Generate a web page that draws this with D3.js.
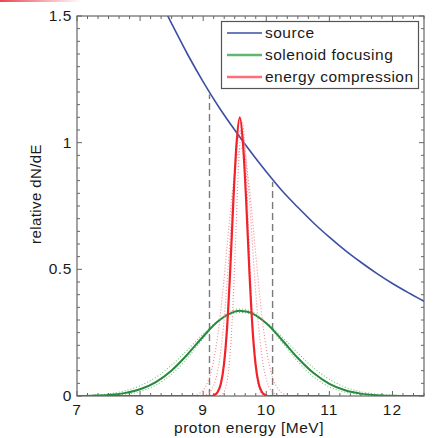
<!DOCTYPE html>
<html>
<head>
<meta charset="utf-8">
<script src="https://cdn.jsdelivr.net/npm/d3@7"></script>
<style>
  body { margin: 0; background: #fff; }
  svg { display: block; font-family: "Liberation Sans", Arial, sans-serif; }
</style>
</head>
<body>
<div id="chart"></div>
<script>
// values
const sourceE = [8.4, 8.5, 8.75, 9.0, 9.25, 9.5, 9.75, 10.0, 10.25, 10.5, 10.75, 11.0, 11.25, 11.5, 11.75, 12.0, 12.25, 12.5];
const sourceV = [1.52, 1.47, 1.35, 1.24, 1.14, 1.05, 0.965, 0.885, 0.81, 0.745, 0.683, 0.627, 0.575, 0.528, 0.484, 0.444, 0.408, 0.374];

const greenE = [7.0, 7.25, 7.5, 7.75, 8.0, 8.25, 8.5, 8.75, 9.0, 9.25, 9.5, 9.6, 9.75, 10.0, 10.25, 10.5, 10.75, 11.0, 11.25, 11.5, 11.75, 12.0, 12.25, 12.5];
const greenV = [0.0004, 0.0014, 0.0042, 0.0113, 0.0265, 0.0551, 0.101, 0.164, 0.235, 0.298, 0.333, 0.336, 0.329, 0.287, 0.221, 0.150, 0.0905, 0.0481, 0.0226, 0.0094, 0.0034, 0.0011, 0.0003, 0.0001];

const greenDotE = [7.0, 7.25, 7.5, 7.75, 8.0, 8.25, 8.5, 8.75, 9.0, 9.25, 9.5, 9.75, 10.0, 10.25, 10.5, 10.75, 11.0, 11.25, 11.5, 11.75, 12.0, 12.25, 12.5];
const greenDotWide = [0.0013, 0.0035, 0.0088, 0.0198, 0.0403, 0.0739, 0.122, 0.182, 0.245, 0.298, 0.327, 0.324, 0.289, 0.233, 0.170, 0.111, 0.066, 0.035, 0.017, 0.0074, 0.0029, 0.001, 0.0003];
const greenDotNarrow = [0.0002, 0.0007, 0.0022, 0.0068, 0.018, 0.043, 0.086, 0.150, 0.228, 0.300, 0.341, 0.336, 0.287, 0.212, 0.136, 0.076, 0.036, 0.015, 0.0055, 0.002, 0.0006, 0.0002, 0.0001];

const redE = [7.0, 8.6, 9.13, 9.18, 9.23, 9.28, 9.33, 9.38, 9.43, 9.48, 9.53, 9.58, 9.63, 9.68, 9.73, 9.78, 9.83, 9.88, 9.93, 9.98, 10.03, 11.0];
const redV = [0, 0, 0, 0.004, 0.016, 0.048, 0.126, 0.274, 0.504, 0.778, 1.0, 1.10, 1.0, 0.778, 0.504, 0.274, 0.126, 0.048, 0.016, 0.004, 0, 0];

const redDotAE = [9.05, 9.1, 9.15, 9.2, 9.25, 9.3, 9.35, 9.4, 9.45, 9.5, 9.55, 9.6, 9.65, 9.7, 9.75, 9.8, 9.85, 9.9, 9.95, 10.0, 10.05, 10.1, 10.15];
const redDotAV = [0.005, 0.014, 0.032, 0.066, 0.126, 0.221, 0.356, 0.525, 0.712, 0.883, 1.006, 1.05, 1.006, 0.883, 0.712, 0.525, 0.356, 0.221, 0.126, 0.066, 0.032, 0.014, 0.005];

const redDotBE = [8.9, 8.95, 9.0, 9.05, 9.1, 9.15, 9.2, 9.25, 9.3, 9.35, 9.4, 9.45, 9.5, 9.55, 9.6, 9.65, 9.7, 9.75, 9.8, 9.85, 9.9, 9.95, 10.0, 10.05, 10.1, 10.15, 10.2, 10.25, 10.3];
const redDotBV = [0.006, 0.012, 0.024, 0.043, 0.074, 0.121, 0.188, 0.276, 0.387, 0.514, 0.648, 0.777, 0.884, 0.955, 0.98, 0.955, 0.884, 0.777, 0.648, 0.514, 0.387, 0.276, 0.188, 0.121, 0.074, 0.043, 0.024, 0.012, 0.006];

const redDotCE = [9.27, 9.32, 9.37, 9.42, 9.47, 9.52, 9.57, 9.62, 9.67, 9.72, 9.77, 9.82, 9.87, 9.92, 9.97];
const redDotCV = [0.002, 0.012, 0.047, 0.146, 0.351, 0.655, 0.953, 1.08, 0.953, 0.655, 0.351, 0.146, 0.047, 0.012, 0.002];

const dashE = [9.1, 10.1];
const dashTop = [1.19, 0.845];

const xTicks = [7, 8, 9, 10, 11, 12];
const yTicks = [0, 0.5, 1, 1.5];
const yTickLabels = ["0", "0.5", "1", "1.5"];

const legendNames = ["source", "solenoid focusing", "energy compression"];
const lineColors = ["#3c4fa3", "#27893a", "#f2222c"];
const legendColors = ["#3c4fa3", "#62b672", "#ff6e76"];

const width = 434;
const height = 438;
const plot = { left: 77, right: 424, top: 16, bottom: 396 };
const textColor = "#1a1a1a";

const svg = d3
  .select("#chart")
  .append("svg")
  .attr("width", width)
  .attr("height", height);

// faint red stripe in the top-left corner
const grad = svg.append("defs").append("linearGradient").attr("id", "topfade");
grad.append("stop").attr("offset", "0%").attr("stop-color", "#e8474f");
grad.append("stop").attr("offset", "100%").attr("stop-color", "#e8474f").attr("stop-opacity", 0);
svg.append("rect").attr("x", 0).attr("y", 0).attr("width", 82).attr("height", 2).attr("fill", "url(#topfade)");

svg
  .select("defs")
  .append("clipPath")
  .attr("id", "plotclip")
  .append("rect")
  .attr("x", plot.left)
  .attr("y", plot.top)
  .attr("width", plot.right - plot.left)
  .attr("height", plot.bottom - plot.top);

const x = d3.scaleLinear().domain([7, 12.5]).range([plot.left, plot.right]);
const y = d3.scaleLinear().domain([0, 1.5]).range([plot.bottom, plot.top]);

const frame = svg.append("g").attr("stroke", "#666").attr("stroke-width", 1);

// minor + major ticks on all four sides (pointing inward)
const xMinor = d3.range(0, 34).map((i) => 7 + i / 6).filter((v) => v <= 12.5);
const yMinor = d3.range(0, 31).map((i) => i * 0.05);
xMinor.forEach((v) => {
  const len = Math.abs(v - Math.round(v)) < 1e-6 ? 5 : 3;
  frame.append("line").attr("x1", x(v)).attr("x2", x(v)).attr("y1", plot.bottom).attr("y2", plot.bottom - len);
  frame.append("line").attr("x1", x(v)).attr("x2", x(v)).attr("y1", plot.top).attr("y2", plot.top + len);
});
yMinor.forEach((v) => {
  const len = Math.abs(v * 2 - Math.round(v * 2)) < 1e-6 ? 5 : 3;
  frame.append("line").attr("x1", plot.left).attr("x2", plot.left + len).attr("y1", y(v)).attr("y2", y(v));
  frame.append("line").attr("x1", plot.right).attr("x2", plot.right - len).attr("y1", y(v)).attr("y2", y(v));
});

const plotArea = svg.append("g").attr("clip-path", "url(#plotclip)");

const line = d3
  .line()
  .x((d) => x(d[0]))
  .y((d) => y(d[1]))
  .curve(d3.curveCatmullRom);

const pairs = (es, vs) => es.map((e, i) => [e, vs[i]]);

// dashed window markers
dashE.forEach((e, i) => {
  plotArea
    .append("line")
    .attr("x1", x(e))
    .attr("x2", x(e))
    .attr("y1", y(0))
    .attr("y2", y(dashTop[i]))
    .attr("stroke", "#7a7a7a")
    .attr("stroke-width", 1.4)
    .attr("stroke-dasharray", "7,4");
});

plotArea
  .append("path")
  .datum(pairs(sourceE, sourceV))
  .attr("d", line)
  .attr("fill", "none")
  .attr("stroke", lineColors[0])
  .attr("stroke-width", 1.6);

[greenDotWide, greenDotNarrow].forEach((vals) => {
  plotArea
    .append("path")
    .datum(pairs(greenDotE, vals))
    .attr("d", line)
    .attr("fill", "none")
    .attr("stroke", "#74c082")
    .attr("stroke-width", 1.1)
    .attr("stroke-dasharray", "1,2");
});

plotArea
  .append("path")
  .datum(pairs(greenE, greenV))
  .attr("d", line)
  .attr("fill", "none")
  .attr("stroke", lineColors[1])
  .attr("stroke-width", 2);

[
  [redDotAE, redDotAV],
  [redDotBE, redDotBV],
  [redDotCE, redDotCV],
].forEach(([es, vs]) => {
  plotArea
    .append("path")
    .datum(pairs(es, vs))
    .attr("d", line)
    .attr("fill", "none")
    .attr("stroke", "#f3868d")
    .attr("stroke-width", 1.1)
    .attr("stroke-dasharray", "1,2");
});

plotArea
  .append("path")
  .datum(pairs(redE, redV))
  .attr("d", d3.line().x((d) => x(d[0])).y((d) => y(d[1])).curve(d3.curveMonotoneX))
  .attr("fill", "none")
  .attr("stroke", lineColors[2])
  .attr("stroke-width", 2.2);

// axes box
svg
  .append("rect")
  .attr("x", plot.left)
  .attr("y", plot.top)
  .attr("width", plot.right - plot.left)
  .attr("height", plot.bottom - plot.top)
  .attr("fill", "none")
  .attr("stroke", "#666")
  .attr("stroke-width", 1.2);

// tick labels
svg
  .selectAll(".xlab")
  .data(xTicks)
  .join("text")
  .attr("class", "xlab")
  .attr("x", (d) => x(d))
  .attr("y", 415)
  .attr("text-anchor", "middle")
  .attr("font-size", "15.5px")
  .attr("letter-spacing", "1px")
  .attr("fill", textColor)
  .text((d) => d);

svg
  .selectAll(".ylab")
  .data(yTicks)
  .join("text")
  .attr("class", "ylab")
  .attr("x", 72)
  .attr("y", (d) => y(d) + 5)
  .attr("text-anchor", "end")
  .attr("font-size", "15.5px")
  .attr("letter-spacing", "0.6px")
  .attr("fill", textColor)
  .text((d, i) => yTickLabels[i]);

svg
  .append("text")
  .attr("x", 249)
  .attr("y", 433)
  .attr("text-anchor", "middle")
  .attr("font-size", "15.5px")
  .attr("letter-spacing", "0.5px")
  .attr("fill", textColor)
  .text("proton energy [MeV]");

svg
  .append("text")
  .attr("transform", "translate(41,194) rotate(-90)")
  .attr("text-anchor", "middle")
  .attr("font-size", "15px")
  .attr("letter-spacing", "0.4px")
  .attr("fill", textColor)
  .text("relative dN/dE");

// legend
const legend = svg.append("g");
legend
  .append("rect")
  .attr("x", 221.5)
  .attr("y", 21.5)
  .attr("width", 197)
  .attr("height", 67)
  .attr("fill", "#fff")
  .attr("stroke", "#555")
  .attr("stroke-width", 1.2);

legendNames.forEach((name, i) => {
  const ly = 33 + i * 22;
  legend
    .append("line")
    .attr("x1", 227)
    .attr("x2", 262)
    .attr("y1", ly)
    .attr("y2", ly)
    .attr("stroke", legendColors[i])
    .attr("stroke-width", i === 0 ? 1.6 : 2.5);
  legend
    .append("text")
    .attr("x", 265)
    .attr("y", ly + 5)
    .attr("font-size", "15.5px")
    .attr("letter-spacing", "0.5px")
    .attr("fill", textColor)
    .text(name);
});
</script>
</body>
</html>
